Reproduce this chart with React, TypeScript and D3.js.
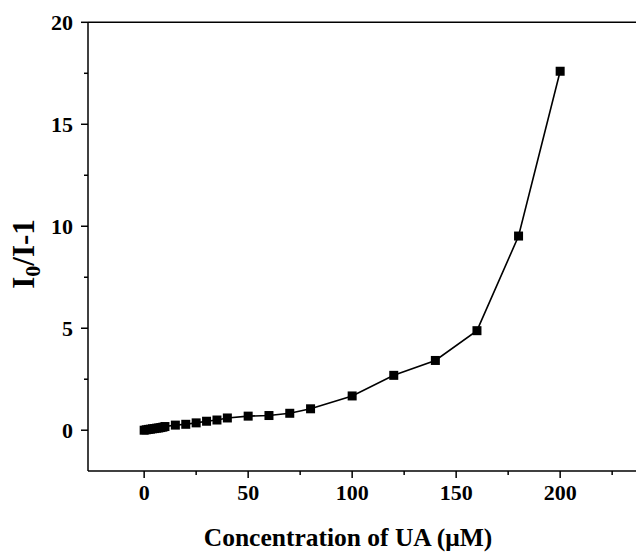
import React from "react";
import * as d3 from "d3";

const concentration = [0, 1, 2, 3, 4, 5, 6, 7, 8, 9, 10, 15, 20, 25, 30, 35, 40, 50, 60, 70, 80, 100, 120, 140, 160, 180, 200];
const response = [0, 0.02, 0.04, 0.05, 0.07, 0.08, 0.1, 0.11, 0.13, 0.15, 0.18, 0.25, 0.29, 0.36, 0.44, 0.5, 0.6, 0.69, 0.72, 0.83, 1.05, 1.68, 2.69, 3.42, 4.88, 9.52, 17.6];
const xMajorTicks = [0, 50, 100, 150, 200];
const xMinorTicks = [25, 75, 125, 175, 225];
const yMajorTicks = [0, 5, 10, 15, 20];
const yMinorTicks = [2.5, 7.5, 12.5, 17.5];

const W = 636;
const H = 553;
const left = 88;
const top = 22.3;
const bottom = 471;
const xDomain = [-27, 240];
const unit = 2.08;
const right = left + (xDomain[1] - xDomain[0]) * unit;

export default function App() {
  const x = d3.scaleLinear().domain(xDomain).range([left, right]);
  const y = d3.scaleLinear().domain([-2, 20]).range([bottom, top]);
  const pts = concentration.map((c, i) => [c, response[i]] as [number, number]);
  const line = d3.line<[number, number]>().x((d) => x(d[0])).y((d) => y(d[1]));
  const font = "'Liberation Serif', 'Times New Roman', serif";
  const sq = 9;
  return (
    <svg width={W} height={H} style={{ position: "absolute", left: 0, top: 0, background: "#fff" }}>
      <rect x={0} y={0} width={W} height={H} fill="#fff" />
      <line x1={left} x2={right} y1={top} y2={top} stroke="#000" strokeWidth={1.5} />
      <line x1={left} x2={left} y1={top} y2={bottom} stroke="#000" strokeWidth={1.5} />
      <line x1={left} x2={right} y1={bottom} y2={bottom} stroke="#000" strokeWidth={1.5} />
      {xMajorTicks.map((t) => (
        <g key={"xm" + t}>
          <line x1={x(t)} x2={x(t)} y1={bottom} y2={bottom + 7} stroke="#000" strokeWidth={1.5} />
          <text x={x(t)} y={bottom + 29} textAnchor="middle" fontFamily={font} fontWeight="bold" fontSize={22}>
            {t}
          </text>
        </g>
      ))}
      {xMinorTicks.map((t) => (
        <line key={"xn" + t} x1={x(t)} x2={x(t)} y1={bottom} y2={bottom + 4} stroke="#000" strokeWidth={1.5} />
      ))}
      {yMajorTicks.map((t) => (
        <g key={"ym" + t}>
          <line x1={left} x2={left - 7} y1={y(t)} y2={y(t)} stroke="#000" strokeWidth={1.5} />
          <text x={left - 15} y={y(t)} dy="0.35em" textAnchor="end" fontFamily={font} fontWeight="bold" fontSize={22}>
            {t}
          </text>
        </g>
      ))}
      {yMinorTicks.map((t) => (
        <line key={"yn" + t} x1={left} x2={left - 4} y1={y(t)} y2={y(t)} stroke="#000" strokeWidth={1.5} />
      ))}
      <path d={line(pts) || ""} fill="none" stroke="#000" strokeWidth={1.6} />
      {pts.map((d, i) => (
        <rect key={i} x={x(d[0]) - sq / 2} y={y(d[1]) - sq / 2} width={sq} height={sq} fill="#000" />
      ))}
      <text x={348} y={546} textAnchor="middle" fontFamily={font} fontWeight="bold" fontSize={25.5}>
        Concentration of UA (μM)
      </text>
      <text
        transform={`translate(34, 254) rotate(-90)`}
        textAnchor="middle"
        fontFamily={font}
        fontWeight="bold"
        fontSize={31}
      >
        I<tspan fontSize={22} dy={6}>0</tspan>
        <tspan dy={-6}>/I-1</tspan>
      </text>
    </svg>
  );
}
